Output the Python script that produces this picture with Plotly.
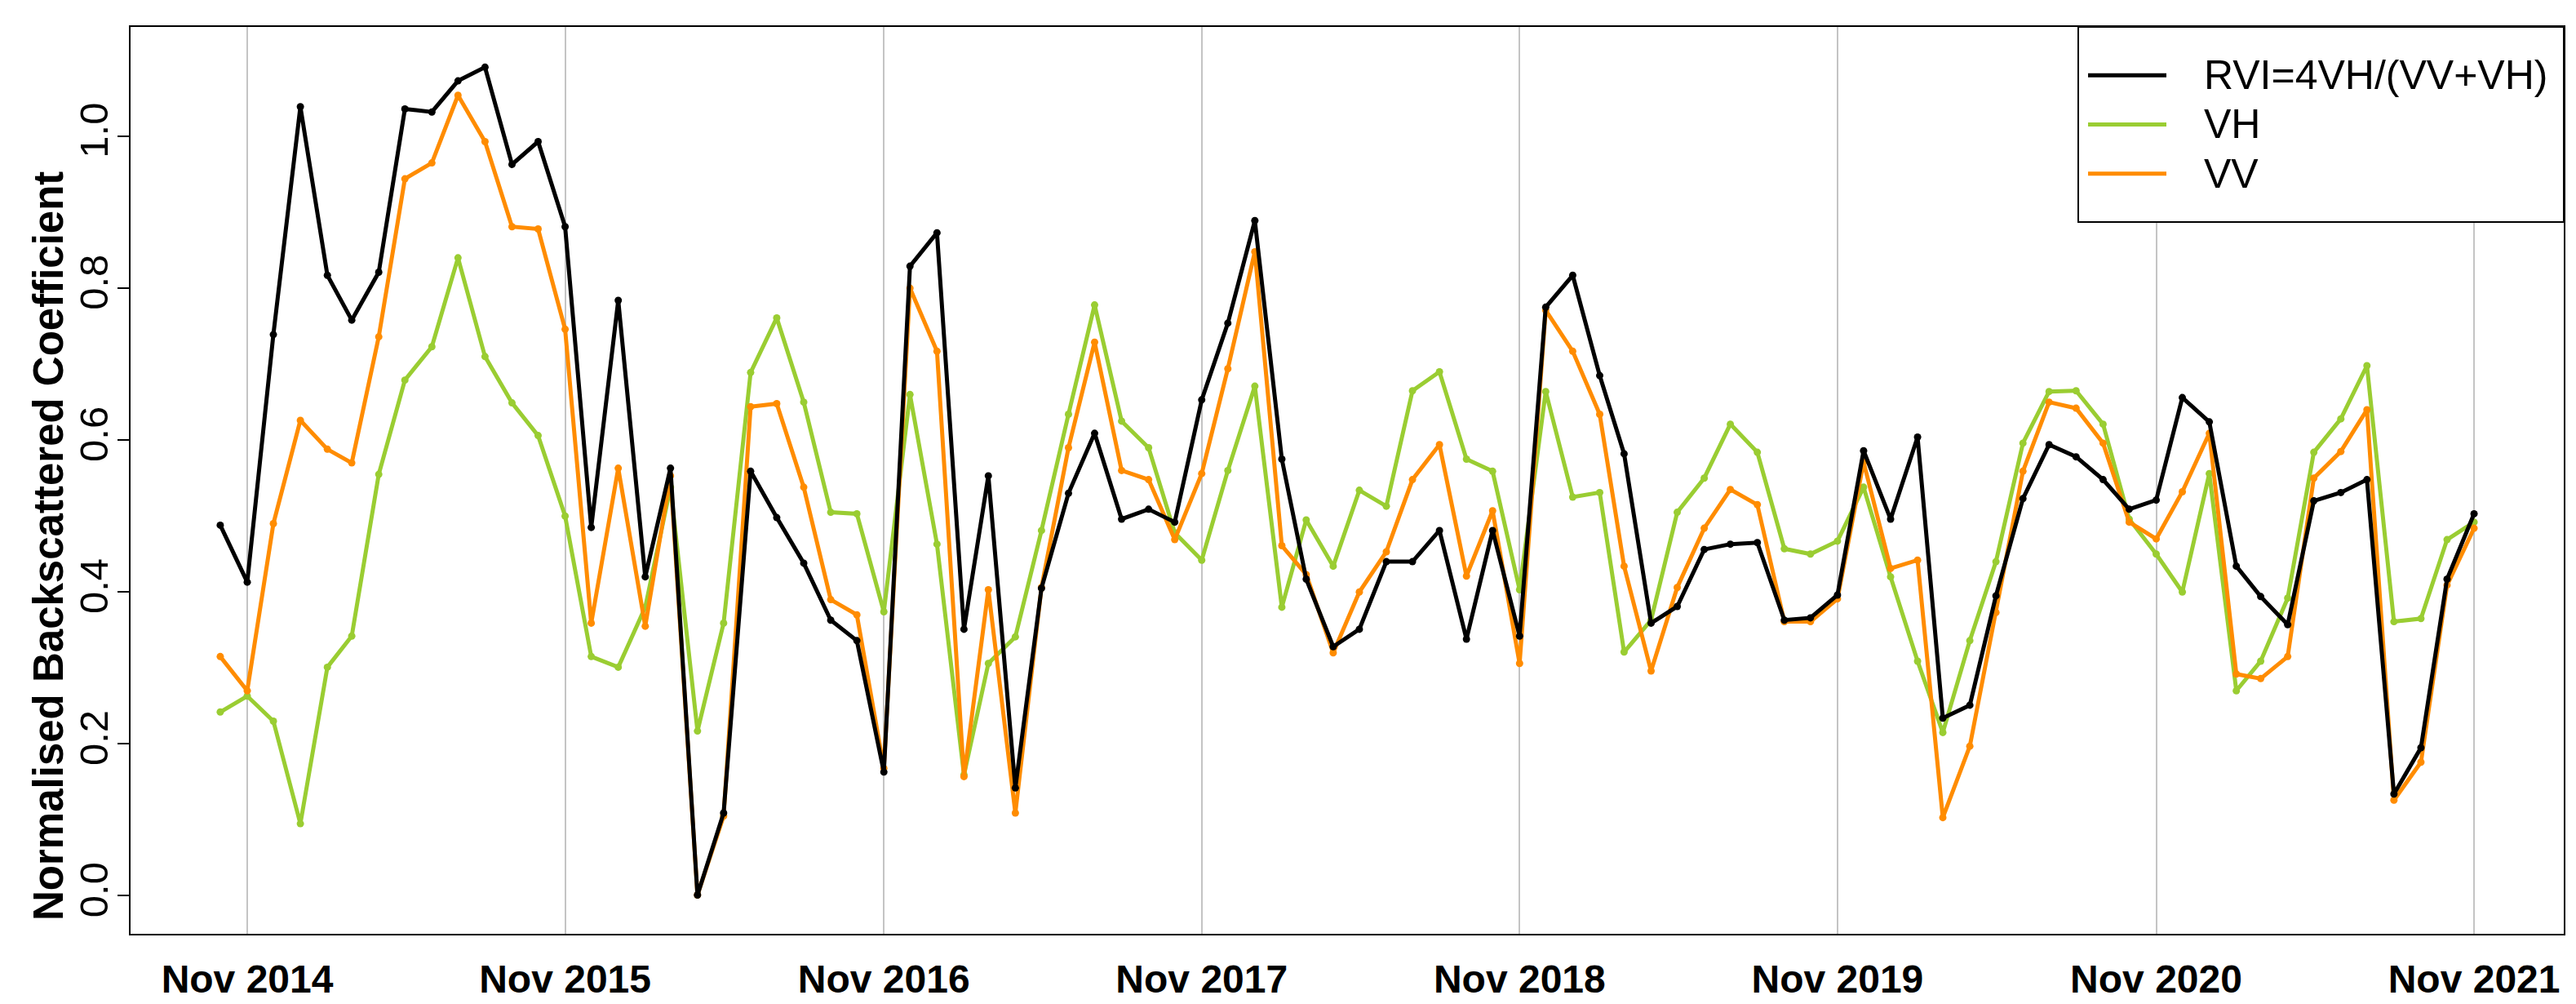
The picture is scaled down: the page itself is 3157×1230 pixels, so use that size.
import plotly.graph_objects as go
import pandas as pd

months = pd.date_range("2014-10-01", "2021-11-01", freq="MS")

rvi = [0.488, 0.413, 0.739,
       1.039, 0.817, 0.758, 0.821, 1.036, 1.032, 1.073, 1.091, 0.963, 0.993, 0.881, 0.485,
       0.784, 0.420, 0.563, 0.001, 0.109, 0.559, 0.498, 0.438, 0.363, 0.336, 0.163, 0.829,
       0.873, 0.351, 0.553, 0.142, 0.405, 0.530, 0.609, 0.496, 0.509, 0.492, 0.653, 0.754,
       0.889, 0.575, 0.417, 0.328, 0.351, 0.440, 0.440, 0.481, 0.338, 0.481, 0.342, 0.775,
       0.817, 0.685, 0.582, 0.359, 0.381, 0.456, 0.463, 0.465, 0.363, 0.366, 0.396, 0.586,
       0.496, 0.604, 0.234, 0.251, 0.395, 0.523, 0.594, 0.578, 0.548, 0.509, 0.521, 0.656,
       0.624, 0.434, 0.394, 0.357, 0.520, 0.531, 0.548, 0.134, 0.195, 0.417, 0.503]

vh = [0.242, 0.263, 0.230,
      0.095, 0.301, 0.342, 0.555, 0.679, 0.723, 0.840, 0.710, 0.649, 0.606, 0.500, 0.315,
      0.301, 0.380, 0.538, 0.217, 0.359, 0.689, 0.761, 0.650, 0.505, 0.503, 0.374, 0.660,
      0.463, 0.159, 0.306, 0.341, 0.481, 0.634, 0.778, 0.625, 0.590, 0.478, 0.442, 0.560,
      0.671, 0.380, 0.495, 0.434, 0.534, 0.513, 0.665, 0.690, 0.575, 0.559, 0.403, 0.664,
      0.525, 0.531, 0.321, 0.363, 0.505, 0.550, 0.621, 0.584, 0.457, 0.450, 0.467, 0.538,
      0.420, 0.309, 0.215, 0.336, 0.440, 0.596, 0.664, 0.665, 0.621, 0.496, 0.450, 0.400,
      0.556, 0.270, 0.309, 0.392, 0.584, 0.628, 0.698, 0.361, 0.365, 0.469, 0.492]

vv = [0.315, 0.270, 0.490,
      0.626, 0.588, 0.570, 0.736, 0.944, 0.965, 1.054, 0.993, 0.881, 0.878, 0.746, 0.359,
      0.563, 0.355, 0.553, 0.001, 0.105, 0.644, 0.648, 0.538, 0.390, 0.370, 0.168, 0.800,
      0.717, 0.157, 0.403, 0.109, 0.406, 0.590, 0.729, 0.560, 0.548, 0.469, 0.556, 0.694,
      0.848, 0.461, 0.423, 0.320, 0.400, 0.453, 0.548, 0.594, 0.421, 0.507, 0.306, 0.771,
      0.717, 0.634, 0.434, 0.296, 0.406, 0.484, 0.535, 0.515, 0.361, 0.361, 0.391, 0.571,
      0.431, 0.442, 0.103, 0.197, 0.373, 0.559, 0.650, 0.642, 0.596, 0.492, 0.470, 0.532,
      0.609, 0.292, 0.286, 0.315, 0.550, 0.585, 0.640, 0.126, 0.176, 0.409, 0.484]

tick_dates = pd.date_range("2014-11-01", "2021-11-01", freq="12MS")
tick_labels = [d.strftime("Nov %Y") for d in tick_dates]
y_ticks = [0.0, 0.2, 0.4, 0.6, 0.8, 1.0]
y_tick_labels = ["0.0", "0.2", "0.4", "0.6", "0.8", "1.0"]

series_names = ["RVI=4VH/(VV+VH)", "VH", "VV"]
series_colors = ["#000000", "#9ACD32", "#FF8C00"]
series_values = [rvi, vh, vv]

fig = go.Figure()
# draw order: VH, VV, RVI on top as in reference
for idx in [1, 2, 0]:
    fig.add_trace(go.Scatter(
        x=months, y=series_values[idx], mode="lines+markers",
        name=series_names[idx],
        line=dict(color=series_colors[idx], width=5),
        marker=dict(color=series_colors[idx], size=9, symbol="circle"),
        showlegend=False,
    ))

W, H = 3157, 1230
L, R, T, B = 152, 23, 25, 80
pw, ph = W - L - R, H - T - B

def px_x(px):
    return (px - L) / pw

def px_y(py):
    return (H - B - py) / ph

shapes = [
    dict(type="rect", xref="paper", yref="paper",
         x0=px_x(2539), x1=1.0, y0=px_y(267), y1=1.0,
         fillcolor="white", line=dict(color="black", width=2), layer="above"),
]
annotations = []
row_y = [85, 146, 207]
for i, name in enumerate(series_names):
    shapes.append(dict(type="line", xref="paper", yref="paper",
                       x0=px_x(2551), x1=px_x(2647), y0=px_y(row_y[i]), y1=px_y(row_y[i]),
                       line=dict(color=series_colors[i], width=5), layer="above"))
    annotations.append(dict(text=name, xref="paper", yref="paper",
                            x=px_x(2691), y=px_y(row_y[i]), xanchor="left", yanchor="middle",
                            showarrow=False,
                            font=dict(family="Liberation Sans, Arial", size=50, color="black")))

annotations.append(dict(text="<b>Normalised Backscattered Coefficient</b>",
                        xref="paper", yref="paper", x=0, y=px_y(669),
                        xanchor="center", yanchor="middle", xshift=-100,
                        textangle=-90, showarrow=False,
                        font=dict(family="Liberation Sans, Arial", size=51, color="black")))

fig.update_layout(
    width=W, height=H,
    margin=dict(l=L, r=R, t=T, b=B, pad=0),
    paper_bgcolor="white", plot_bgcolor="white",
    shapes=shapes, annotations=annotations,
    showlegend=False,
    xaxis=dict(
        range=["2014-06-20", "2022-02-12"],
        tickmode="array", tickvals=tick_dates, ticktext=[f"<b>{t}</b>" for t in tick_labels],
        tickfont=dict(family="Liberation Sans, Arial", size=48, color="black"),
        showgrid=True, gridcolor="#c4c4c4", gridwidth=2,
        showline=True, linecolor="black", linewidth=2, mirror=True,
        ticks="", zeroline=False, ticklabelstandoff=12,
    ),
    yaxis=dict(
        range=[-0.05, 1.144],
        tickmode="array", tickvals=y_ticks, ticktext=y_tick_labels,
        tickangle=-90,
        tickfont=dict(family="Liberation Sans, Arial", size=49, color="black"),
        showgrid=False, zeroline=False,
        showline=True, linecolor="black", linewidth=2, mirror=True,
        ticks="outside", ticklen=14, tickwidth=2, tickcolor="black",
        ticklabelstandoff=-8,
    ),
)

fig.write_html("out.html")
